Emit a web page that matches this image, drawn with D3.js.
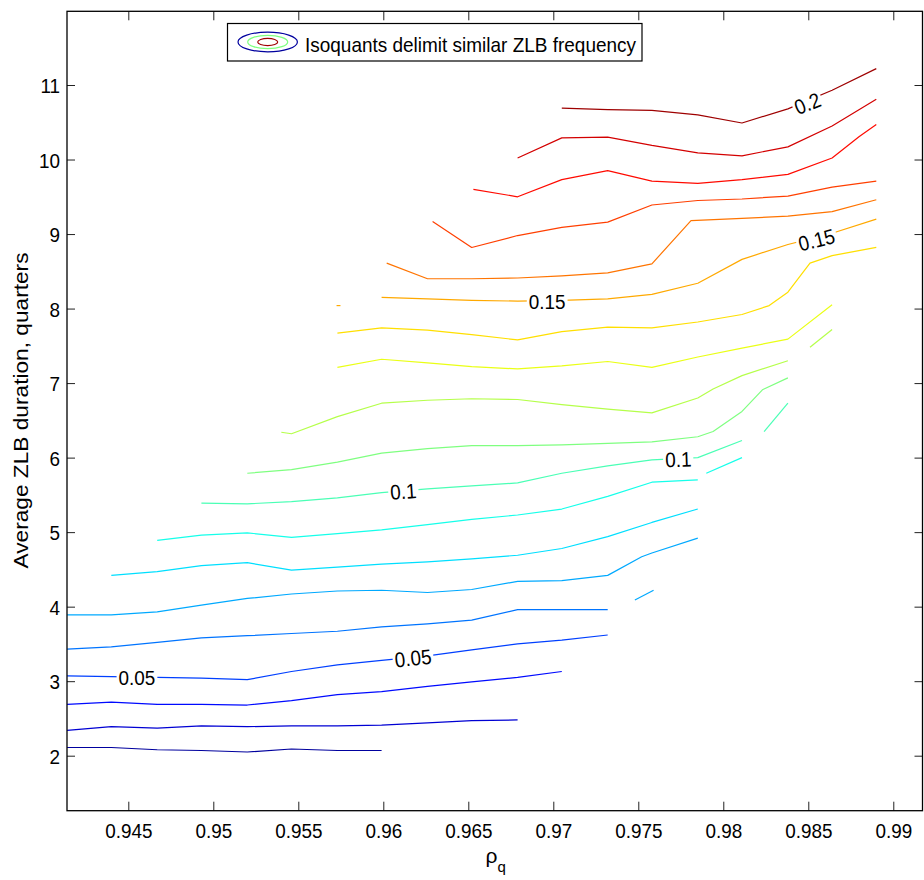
<!DOCTYPE html>
<html>
<head>
<meta charset="utf-8">
<script src="https://cdn.jsdelivr.net/npm/d3@7"></script>
<style>
  body { margin: 0; background: #fff; }
  svg text { font-family: "Liberation Sans", Arial, Helvetica, sans-serif; fill: #000; }
</style>
</head>
<body>
<svg id="chart" width="924" height="880"></svg>
<script>
// isoquants of ZLB frequency, points are [rho_q, average ZLB duration]
const iso020 = [[0.9414,2.11],[0.9440,2.11],[0.9467,2.08],[0.9493,2.07],[0.9520,2.05],[0.9546,2.09],[0.9573,2.07],[0.9599,2.07]];
const iso030 = [[0.9414,2.34],[0.9440,2.39],[0.9467,2.37],[0.9493,2.40],[0.9520,2.39],[0.9546,2.40],[0.9573,2.40],[0.9599,2.41],[0.9626,2.44],[0.9652,2.47],[0.9679,2.48]];
const iso040 = [[0.9414,2.69],[0.9440,2.72],[0.9467,2.69],[0.9493,2.69],[0.9520,2.68],[0.9546,2.74],[0.9573,2.82],[0.9599,2.86],[0.9626,2.93],[0.9652,2.99],[0.9679,3.05],[0.9705,3.13]];
const iso050 = [[0.9414,3.07],[0.9440,3.06],[0.9467,3.05],[0.9493,3.04],[0.9520,3.02],[0.9546,3.13],[0.9573,3.22],[0.9599,3.28],[0.9626,3.34],[0.9652,3.42],[0.9679,3.50],[0.9705,3.55],[0.9732,3.62]];
const iso060 = [[0.9414,3.43],[0.9440,3.46],[0.9467,3.52],[0.9493,3.58],[0.9520,3.61],[0.9546,3.64],[0.9573,3.67],[0.9599,3.73],[0.9626,3.77],[0.9652,3.82],[0.9679,3.96],[0.9705,3.96],[0.9732,3.96]];
const iso070 = [[0.9414,3.89],[0.9440,3.89],[0.9467,3.93],[0.9493,4.02],[0.9520,4.11],[0.9546,4.17],[0.9573,4.21],[0.9599,4.22],[0.9626,4.19],[0.9652,4.23],[0.9679,4.34],[0.9705,4.35],[0.9732,4.42],[0.9752,4.67],[0.9758,4.72],[0.9785,4.92]];
const iso070b = [[0.9748,4.09],[0.9759,4.22]];
const iso080 = [[0.9440,4.42],[0.9467,4.47],[0.9493,4.55],[0.9520,4.59],[0.9546,4.49],[0.9573,4.53],[0.9599,4.57],[0.9626,4.60],[0.9652,4.64],[0.9679,4.69],[0.9705,4.78],[0.9732,4.94],[0.9758,5.13],[0.9785,5.31]];
const iso090 = [[0.9467,4.89],[0.9493,4.96],[0.9520,4.99],[0.9546,4.93],[0.9573,4.98],[0.9599,5.03],[0.9626,5.10],[0.9652,5.17],[0.9679,5.23],[0.9705,5.31],[0.9732,5.48],[0.9758,5.67],[0.9785,5.70]];
const iso090b = [[0.9790,5.79],[0.9811,6.00]];
const iso100 = [[0.9493,5.39],[0.9520,5.38],[0.9546,5.41],[0.9573,5.46],[0.9599,5.53],[0.9626,5.58],[0.9652,5.62],[0.9679,5.66],[0.9705,5.79],[0.9732,5.89],[0.9758,5.97],[0.9785,6.00],[0.9811,6.23]];
const iso100b = [[0.9824,6.35],[0.9838,6.73]];
const iso110 = [[0.9520,5.79],[0.9546,5.84],[0.9573,5.94],[0.9599,6.06],[0.9626,6.12],[0.9652,6.16],[0.9679,6.16],[0.9705,6.17],[0.9732,6.19],[0.9758,6.21],[0.9785,6.28],[0.9794,6.35],[0.9811,6.62],[0.9823,6.91],[0.9838,7.07]];
const iso120 = [[0.9540,6.34],[0.9546,6.32],[0.9573,6.55],[0.9599,6.73],[0.9626,6.77],[0.9652,6.79],[0.9679,6.78],[0.9705,6.71],[0.9732,6.65],[0.9758,6.60],[0.9785,6.80],[0.9794,6.92],[0.9811,7.10],[0.9838,7.30]];
const iso120b = [[0.9851,7.48],[0.9864,7.72]];
const iso130 = [[0.9573,7.21],[0.9599,7.32],[0.9626,7.27],[0.9652,7.22],[0.9679,7.19],[0.9705,7.23],[0.9732,7.29],[0.9758,7.21],[0.9785,7.35],[0.9811,7.47],[0.9838,7.59],[0.9864,8.05]];
const iso140 = [[0.9573,7.67],[0.9599,7.74],[0.9626,7.71],[0.9652,7.65],[0.9679,7.58],[0.9705,7.69],[0.9732,7.75],[0.9758,7.74],[0.9785,7.82],[0.9811,7.92],[0.9827,8.04],[0.9838,8.22],[0.9851,8.61],[0.9864,8.71],[0.9890,8.82]];
const iso150 = [[0.9599,8.15],[0.9626,8.13],[0.9652,8.11],[0.9679,8.10],[0.9705,8.11],[0.9732,8.13],[0.9758,8.19],[0.9785,8.34],[0.9811,8.66],[0.9838,8.86],[0.9864,9.01],[0.9890,9.20]];
const iso150b = [[0.95725,8.04],[0.95748,8.04]];
const iso160 = [[0.9602,8.61],[0.9626,8.40],[0.9652,8.40],[0.9679,8.41],[0.9705,8.44],[0.9732,8.48],[0.9758,8.60],[0.9781,9.18],[0.9811,9.21],[0.9838,9.24],[0.9864,9.30],[0.9890,9.46]];
const iso170 = [[0.9629,9.17],[0.9652,8.82],[0.9679,8.98],[0.9705,9.09],[0.9732,9.16],[0.9758,9.39],[0.9785,9.45],[0.9811,9.47],[0.9838,9.51],[0.9864,9.63],[0.9890,9.71]];
const iso180 = [[0.9653,9.60],[0.9679,9.50],[0.9705,9.73],[0.9732,9.85],[0.9758,9.71],[0.9785,9.68],[0.9811,9.73],[0.9838,9.80],[0.9864,10.02],[0.9880,10.31],[0.9890,10.47]];
const iso190 = [[0.9679,10.02],[0.9705,10.29],[0.9732,10.30],[0.9758,10.19],[0.9785,10.09],[0.9811,10.05],[0.9838,10.17],[0.9864,10.45],[0.9890,10.81]];
const iso200 = [[0.9705,10.69],[0.9732,10.67],[0.9758,10.66],[0.9785,10.60],[0.9811,10.49],[0.9838,10.68],[0.9864,10.93],[0.9890,11.22]];

// inline contour labels
const labelText = ['0.05', '0.05', '0.1', '0.1', '0.15', '0.15', '0.2'];
const labelRho  = [0.94551, 0.96175, 0.96118, 0.97735, 0.96964, 0.98549, 0.98495];
const labelDur  = [3.056, 3.311, 5.546, 5.976, 8.090, 8.922, 10.752];
const labelTilt = [0, -6, -4, -2, 0, -14, -22];

const xTicks = [0.945, 0.95, 0.955, 0.96, 0.965, 0.97, 0.975, 0.98, 0.985, 0.99];
const yTicks = [2, 3, 4, 5, 6, 7, 8, 9, 10, 11];

const isoquants = [
  {level: 0.02, pts: iso020}, {level: 0.03, pts: iso030}, {level: 0.04, pts: iso040},
  {level: 0.05, pts: iso050}, {level: 0.06, pts: iso060}, {level: 0.07, pts: iso070},
  {level: 0.07, pts: iso070b}, {level: 0.08, pts: iso080}, {level: 0.09, pts: iso090},
  {level: 0.09, pts: iso090b}, {level: 0.10, pts: iso100}, {level: 0.10, pts: iso100b},
  {level: 0.11, pts: iso110}, {level: 0.12, pts: iso120}, {level: 0.12, pts: iso120b},
  {level: 0.13, pts: iso130}, {level: 0.14, pts: iso140}, {level: 0.15, pts: iso150},
  {level: 0.15, pts: iso150b}, {level: 0.16, pts: iso160}, {level: 0.17, pts: iso170},
  {level: 0.18, pts: iso180}, {level: 0.19, pts: iso190}, {level: 0.20, pts: iso200}
];

const margin = {top: 11.3, right: 1.5, bottom: 69.3, left: 67};
const width = 924 - margin.left - margin.right;
const height = 880 - margin.top - margin.bottom;

const x = d3.scaleLinear().domain([0.941394, 0.991718]).range([0, width]);
const y = d3.scaleLinear().domain([1.262, 11.989]).range([height, 0]);

// matlab jet colormap
function jet(t) {
  const c = v => Math.max(0, Math.min(1, v)) * 255;
  return d3.rgb(c(1.5 - Math.abs(4 * t - 3)), c(1.5 - Math.abs(4 * t - 2)), c(1.5 - Math.abs(4 * t - 1))).formatHex();
}
const colorT = d3.scaleLinear().domain([0.02, 0.2]).range([0.03, 0.97]);
const color = lv => jet(colorT(lv));

const svg = d3.select('#chart')
  .append('g')
    .attr('transform', 'translate(' + margin.left + ',' + margin.top + ')');

const line = d3.line().x(d => x(d[0])).y(d => y(d[1]));

svg.append('g').selectAll('path')
    .data(isoquants)
    .enter().append('path')
      .attr('d', d => line(d.pts))
      .attr('fill', 'none')
      .attr('stroke', d => color(d.level))
      .attr('stroke-width', 1.2)
      .attr('stroke-linejoin', 'round');

// labels sit in a gap cut into the line
const labels = svg.append('g').selectAll('g')
    .data(labelText)
    .enter().append('g')
      .attr('transform', (d, i) => 'translate(' + x(labelRho[i]) + ',' + y(labelDur[i]) + ') rotate(' + labelTilt[i] + ')');

labels.append('rect').attr('fill', '#fff');
labels.append('text')
    .attr('text-anchor', 'middle')
    .attr('y', 7.5)
    .attr('font-size', 21)
    .attr('transform', 'scale(0.9,1)')
    .text(d => d);
labels.each(function () {
  const g = d3.select(this);
  const w = g.select('text').node().getComputedTextLength() * 0.9;
  g.select('rect').attr('x', -w / 2 - 2).attr('y', -9).attr('width', w + 4).attr('height', 18);
});

// axes, matlab style ticks pointing inwards on all four sides
const fmt = d => String(+d.toFixed(3));

const xAxis = svg.append('g')
    .attr('transform', 'translate(0,' + height + ')')
    .call(d3.axisBottom(x).tickValues(xTicks).tickFormat(fmt).tickSizeInner(-9).tickSizeOuter(0).tickPadding(12.7));
svg.append('g')
    .call(d3.axisTop(x).tickValues(xTicks).tickFormat('').tickSizeInner(-9).tickSizeOuter(0));
const yAxis = svg.append('g')
    .call(d3.axisLeft(y).tickValues(yTicks).tickSizeInner(-8).tickSizeOuter(0).tickPadding(7.8));
svg.append('g')
    .attr('transform', 'translate(' + width + ',0)')
    .call(d3.axisRight(y).tickValues(yTicks).tickFormat('').tickSizeInner(-8).tickSizeOuter(0));

svg.selectAll('.domain').remove();
svg.selectAll('.tick line').attr('stroke', '#222').attr('stroke-width', 1);
svg.selectAll('.tick text')
    .attr('font-size', 21)
    .attr('font-family', '"Liberation Sans", Arial, sans-serif')
    .attr('fill', '#000')
    .attr('transform', 'scale(0.9,1)');
yAxis.selectAll('.tick text').attr('dy', '0.37em');

svg.append('rect')
    .attr('width', width)
    .attr('height', height)
    .attr('fill', 'none')
    .attr('stroke', '#000')
    .attr('stroke-width', 1.3);

// axis titles
const root = d3.select('#chart');
root.append('text')
    .attr('transform', 'translate(28.3,410.5) rotate(-90)')
    .attr('text-anchor', 'middle')
    .attr('font-size', 21)
    .attr('textLength', 316)
    .attr('lengthAdjust', 'spacingAndGlyphs')
    .text('Average ZLB duration, quarters');

const xt = root.append('text')
    .attr('x', 485.5)
    .attr('y', 862.7)
    .attr('font-size', 21)
    .text('ρ');
xt.append('tspan')
    .attr('dy', 9)
    .attr('font-size', 15)
    .text('q');

// legend
const legend = root.append('g');
legend.append('rect')
    .attr('x', 227.5).attr('y', 23.5)
    .attr('width', 414.5).attr('height', 37.5)
    .attr('fill', '#fff')
    .attr('stroke', '#000')
    .attr('stroke-width', 1.2);
const ell = [[29.7, 9.8, 0.02], [20, 6.6, 0.11], [10, 3.6, 0.2]];
legend.selectAll('ellipse')
    .data(ell)
    .enter().append('ellipse')
      .attr('cx', 267.7).attr('cy', 42)
      .attr('rx', d => d[0]).attr('ry', d => d[1])
      .attr('fill', 'none')
      .attr('stroke', d => color(d[2]))
      .attr('stroke-width', 1.2);
legend.append('text')
    .attr('x', 305)
    .attr('y', 51.5)
    .attr('font-size', 21)
    .attr('textLength', 331)
    .attr('lengthAdjust', 'spacingAndGlyphs')
    .text('Isoquants delimit similar ZLB frequency');
</script>
</body>
</html>
